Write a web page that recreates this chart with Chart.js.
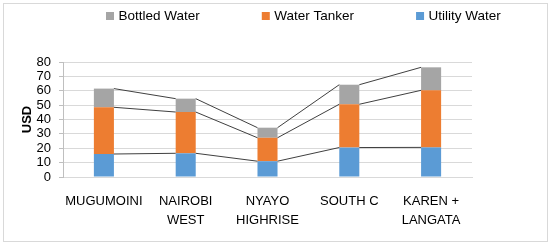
<!DOCTYPE html>
<html>
<head>
<meta charset="utf-8">
<script src="https://cdn.jsdelivr.net/npm/chart.js@4"></script>
<style>
  html, body { margin: 0; padding: 0; background: #fff; }
  #wrap { width: 552px; height: 245px; }
</style>
</head>
<body>
<div id="wrap"><canvas id="chartAgua" width="552" height="245"></canvas></div>
<script>
// datos (USD)
const categorias = [
  ["MUGUMOINI"],
  ["NAIROBI", "WEST"],
  ["NYAYO", "HIGHRISE"],
  ["SOUTH C"],
  ["KAREN +", "LANGATA"],
];
const utilityWater = [16, 16.5, 11, 20.5, 20.6];
const waterTanker = [32.5, 28.7, 16.3, 30.1, 39.7];
const bottledWater = [13, 9.3, 7, 13.6, 16];
const yMin = 0;
const yMax = 80;
const yPaso = 10;

const fuente = "'Liberation Sans', Arial, sans-serif";
const ctxAgua = document.getElementById("chartAgua").getContext("2d");

/*------------------------------------------
Marco gris alrededor del grafico
-------------------------------------------*/
const marcoPlugin = {
  id: "marco",
  beforeDraw(chart) {
    const ctx = chart.ctx;
    ctx.save();
    ctx.fillStyle = "#ffffff";
    ctx.fillRect(0, 0, chart.width, chart.height);
    ctx.strokeStyle = "#d9d9d9";
    ctx.lineWidth = 1;
    ctx.strokeRect(3.5, 3.5, chart.width - 8, chart.height - 7);
    ctx.restore();
  },
};

/*------------------------------------------
Lineas de serie entre las barras apiladas
-------------------------------------------*/
const lineasSeriePlugin = {
  id: "lineasSerie",
  afterDatasetsDraw(chart) {
    const ctx = chart.ctx;
    ctx.save();
    ctx.strokeStyle = "#404040";
    ctx.lineWidth = 1;
    chart.data.datasets.forEach((ds, i) => {
      const barras = chart.getDatasetMeta(i).data;
      for (let k = 0; k < barras.length - 1; k++) {
        const a = barras[k];
        const b = barras[k + 1];
        ctx.beginPath();
        ctx.moveTo(a.x + a.width / 2, a.y);
        ctx.lineTo(b.x - b.width / 2, b.y);
        ctx.stroke();
      }
    });
    ctx.restore();
  },
};

/*------------------------------------------
Leyenda estilo Excel (items separados)
-------------------------------------------*/
const leyendaPlugin = {
  id: "leyendaExcel",
  afterDraw(chart) {
    const ctx = chart.ctx;
    const items = chart.data.datasets.slice().reverse();
    ctx.save();
    ctx.font = "13.5px " + fuente;
    ctx.textBaseline = "middle";
    let x = 106;
    items.forEach((ds) => {
      ctx.fillStyle = ds.backgroundColor;
      ctx.fillRect(x, 12, 8, 8);
      ctx.fillStyle = "#000000";
      ctx.fillText(ds.label, x + 12.5, 16.5);
      x += 12.5 + ctx.measureText(ds.label).width + 62;
    });
    ctx.restore();
  },
};

const chartAgua = new Chart(ctxAgua, {
  type: "bar",
  data: {
    labels: categorias,
    datasets: [
      {
        label: "Utility Water",
        data: utilityWater,
        backgroundColor: "#5b9bd5",
      },
      {
        label: "Water Tanker",
        data: waterTanker,
        backgroundColor: "#ed7d31",
      },
      {
        label: "Bottled Water",
        data: bottledWater,
        backgroundColor: "#a5a5a5",
      },
    ],
  },
  options: {
    responsive: false,
    animation: false,
    devicePixelRatio: 1,
    barPercentage: 0.245,
    categoryPercentage: 1,
    layout: {
      padding: { top: 62, right: 80, bottom: 0, left: 0 },
    },
    plugins: {
      legend: { display: false },
      tooltip: { enabled: false },
    },
    scales: {
      x: {
        stacked: true,
        grid: { display: false, drawTicks: false },
        border: { display: true, color: "#d9d9d9" },
        ticks: {
          font: { family: fuente, size: 13, lineHeight: 1.45 },
          color: "#000000",
          padding: 15,
          maxRotation: 0,
          autoSkip: false,
        },
        afterFit: (s) => {
          s.height = 68;
        },
      },
      y: {
        stacked: true,
        min: yMin,
        max: yMax,
        ticks: {
          stepSize: yPaso,
          autoSkip: false,
          padding: 8,
          font: { family: fuente, size: 13, lineHeight: 1 },
          color: "#000000",
        },
        grid: { color: "#d9d9d9", tickLength: 4, tickColor: "#bfbfbf" },
        border: { color: "#bfbfbf" },
        title: {
          display: true,
          text: "USD",
          color: "#000000",
          font: { family: fuente, size: 13, weight: "bold" },
          padding: { top: 20, bottom: 0 },
        },
        afterFit: (s) => {
          s.width = 63;
        },
      },
    },
  },
  plugins: [marcoPlugin, lineasSeriePlugin, leyendaPlugin],
});
</script>
</body>
</html>
